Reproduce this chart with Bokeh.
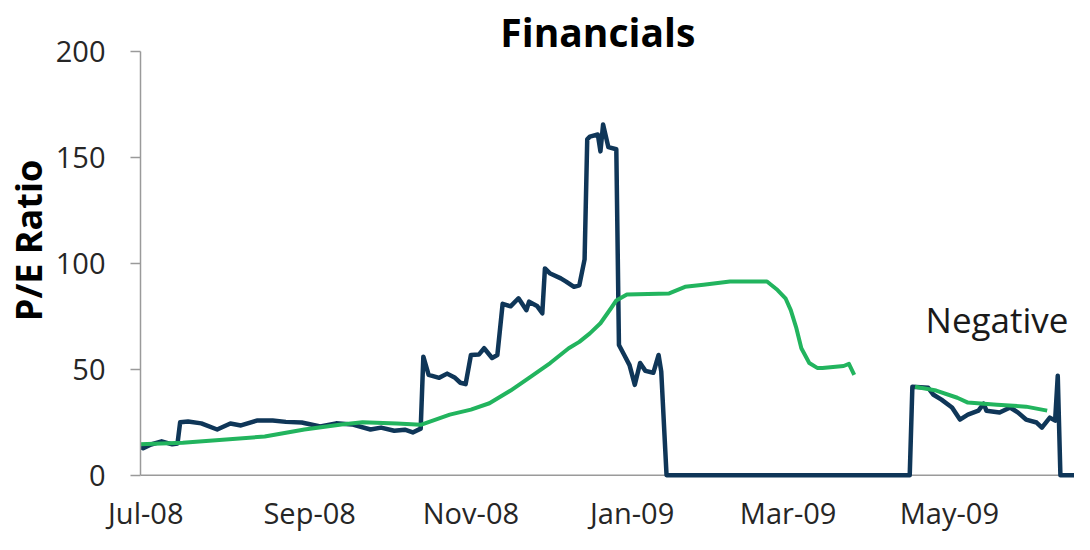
import pandas as pd
from bokeh.plotting import figure
from bokeh.models import Range1d, FixedTicker, DatetimeTickFormatter, Span, Label
from bokeh.embed import file_html
from bokeh.resources import INLINE

# ---------------- data ----------------
pe_dates = [
    "2008-06-28", "2008-06-30", "2008-07-03", "2008-07-07", "2008-07-11", "2008-07-13",
    "2008-07-14", "2008-07-17", "2008-07-22", "2008-07-28", "2008-08-02", "2008-08-06",
    "2008-08-12", "2008-08-18", "2008-08-23", "2008-08-29", "2008-09-05", "2008-09-11",
    "2008-09-17", "2008-09-24", "2008-09-28", "2008-10-03", "2008-10-07", "2008-10-10",
    "2008-10-13", "2008-10-14", "2008-10-16", "2008-10-20", "2008-10-23", "2008-10-26",
    "2008-10-28", "2008-10-30", "2008-11-01", "2008-11-04", "2008-11-06", "2008-11-09",
    "2008-11-11", "2008-11-13", "2008-11-16", "2008-11-19", "2008-11-22", "2008-11-23",
    "2008-11-26", "2008-11-28", "2008-11-29", "2008-12-01", "2008-12-05", "2008-12-07",
    "2008-12-10", "2008-12-12", "2008-12-14", "2008-12-15", "2008-12-16", "2008-12-19",
    "2008-12-20", "2008-12-21", "2008-12-23", "2008-12-26", "2008-12-27", "2008-12-29",
    "2008-12-31", "2009-01-02", "2009-01-04", "2009-01-06", "2009-01-09", "2009-01-11",
    "2009-01-12", "2009-01-14", "2009-04-16", "2009-04-17", "2009-04-23", "2009-04-25",
    "2009-04-28", "2009-05-02", "2009-05-05", "2009-05-08", "2009-05-12", "2009-05-14",
    "2009-05-15", "2009-05-20", "2009-05-24", "2009-05-27", "2009-05-30", "2009-06-03",
    "2009-06-05", "2009-06-08", "2009-06-10", "2009-06-11", "2009-06-12", "2009-06-25",
]
pe_values = [
    14, 12.7, 14.5, 16, 14.6, 15,
    25, 25.4, 24.5, 21.6, 24.4, 23.5,
    25.8, 25.8, 25.2, 24.9, 23, 24.5,
    24, 21.6, 22.5, 21, 21.5, 20.2,
    22, 56, 47.4, 46, 48, 46,
    43.7, 43, 56.8, 57, 60, 55.4,
    56.8, 81, 79.8, 83.6, 78, 82,
    80, 76.5, 97.7, 95.3, 93, 91.5,
    89, 89.7, 102, 158.7, 160, 161,
    153, 165.7, 155, 154, 61.5, 56.8,
    52, 42.7, 53, 49.3, 48.4, 56.8,
    49, 0, 0, 41.8, 41.3, 38,
    35.7, 32, 26.3, 28.6, 30.5, 33.8,
    30.5, 29.6, 32, 29.6, 26.3, 24.9,
    22.5, 27.2, 25.8, 47, 0, 0,
]

avg_dates = [
    "2008-06-28", "2008-07-15", "2008-08-15", "2008-08-30", "2008-09-13", "2008-09-21",
    "2008-10-04", "2008-10-13", "2008-10-24", "2008-11-01", "2008-11-08", "2008-11-16",
    "2008-11-23", "2008-12-01", "2008-12-08", "2008-12-12", "2008-12-16", "2008-12-20",
    "2008-12-24", "2008-12-26", "2008-12-30", "2009-01-15", "2009-01-21", "2009-01-28",
    "2009-02-07", "2009-02-21", "2009-02-25", "2009-02-28", "2009-03-02", "2009-03-04",
    "2009-03-06", "2009-03-09", "2009-03-12", "2009-03-14", "2009-03-22", "2009-03-24",
    "2009-03-26", "2009-04-05", "2009-04-18", "2009-04-26", "2009-05-04", "2009-05-08",
    "2009-05-19", "2009-05-30", "2009-06-07",
]
avg_values = [
    14.6, 15.3, 18.3, 21.6, 24, 25,
    24.4, 23.8, 28.6, 31, 34, 40,
    46, 53, 60, 63, 67, 71.8,
    78.9, 82.6, 85.4, 85.9, 89, 90,
    91.5, 91.5, 87.5, 83.6, 78, 70,
    60, 53, 50.7, 50.7, 51.6, 52.6,
    47.4, float("nan"), 41.8, 40, 36.6, 34.3,
    33.3, 32.4, 30.5,
]

tick_dates = ["2008-07-01", "2008-09-01", "2008-11-01", "2009-01-01", "2009-03-01", "2009-05-01"]
y_ticks = [0, 50, 100, 150, 200]

title_text = "Financials"
y_label_text = "P/E Ratio"
note_text = "Negative"


def ms(d):
    return pd.Timestamp(d).value / 1e6


FONT = "Open Sans"
NAVY = "#0F3658"
GREEN = "#22B45E"
AXIS = "#9A9A9A"
TICK_TEXT = "#262626"

p = figure(
    width=1074, height=534,
    x_axis_type="datetime",
    x_range=Range1d(ms("2008-06-29"), ms("2009-06-17 08:00")),
    y_range=Range1d(-2.5, 224.3),
    output_backend="svg", toolbar_location=None,
    min_border_left=135, min_border_right=0, min_border_top=0, min_border_bottom=51,
)
p.outline_line_color = None
p.xgrid.visible = False
p.ygrid.visible = False
p.background_fill_color = "white"
p.border_fill_color = "white"

# x axis
xa = p.xaxis[0]
xa.ticker = FixedTicker(ticks=[ms(d) for d in tick_dates])
fmt = "%b-%y"
xa.formatter = DatetimeTickFormatter(
    microseconds=fmt, milliseconds=fmt, seconds=fmt, minsec=fmt, minutes=fmt,
    hourmin=fmt, hours=fmt, days=fmt, months=fmt, years=fmt,
)
xa.axis_line_color = None
xa.major_tick_line_color = None
xa.minor_tick_line_color = None
xa.major_tick_out = 0
xa.major_tick_in = 0
xa.major_label_standoff = 12
xa.major_label_text_font = FONT
xa.major_label_text_font_size = "29px"
xa.major_label_text_color = TICK_TEXT

# y axis
ya = p.yaxis[0]
ya.ticker = FixedTicker(ticks=y_ticks)
ya.bounds = (0, 200)
ya.axis_line_color = AXIS
ya.axis_line_width = 1.5
ya.major_tick_line_color = AXIS
ya.major_tick_line_width = 1.5
ya.major_tick_out = 10
ya.major_tick_in = 0
ya.minor_tick_line_color = None
ya.major_label_standoff = 25
ya.major_label_text_font = FONT
ya.major_label_text_font_size = "29px"
ya.major_label_text_color = TICK_TEXT
ya.axis_label = y_label_text
ya.axis_label_text_font = FONT
ya.axis_label_text_font_size = "36px"
ya.axis_label_text_font_style = "bold"
ya.axis_label_text_color = "black"
ya.axis_label_standoff = 0

# baseline at zero
p.add_layout(Span(location=0, dimension="width", line_color=AXIS, line_width=1.5, level="underlay"))

# series
pe_x = pd.to_datetime(pe_dates)
avg_x = pd.to_datetime(avg_dates)
p.line(pe_x, pe_values, line_color=NAVY, line_width=4.5, line_join="round")
p.line(avg_x, avg_values, line_color=GREEN, line_width=4, line_join="round")

# texts
p.add_layout(Label(x=ms("2008-12-19"), y=209.5, text=title_text, text_font=FONT,
                   text_font_size="39px", text_font_style="bold", text_color="black",
                   text_align="center", text_baseline="alphabetic"))
p.add_layout(Label(x=ms("2009-04-22"), y=73.6, text=note_text, text_font=FONT,
                   text_font_size="35px", text_color="#1a1a1a",
                   text_align="left", text_baseline="alphabetic"))

open("out.html", "w").write(file_html(p, INLINE))
